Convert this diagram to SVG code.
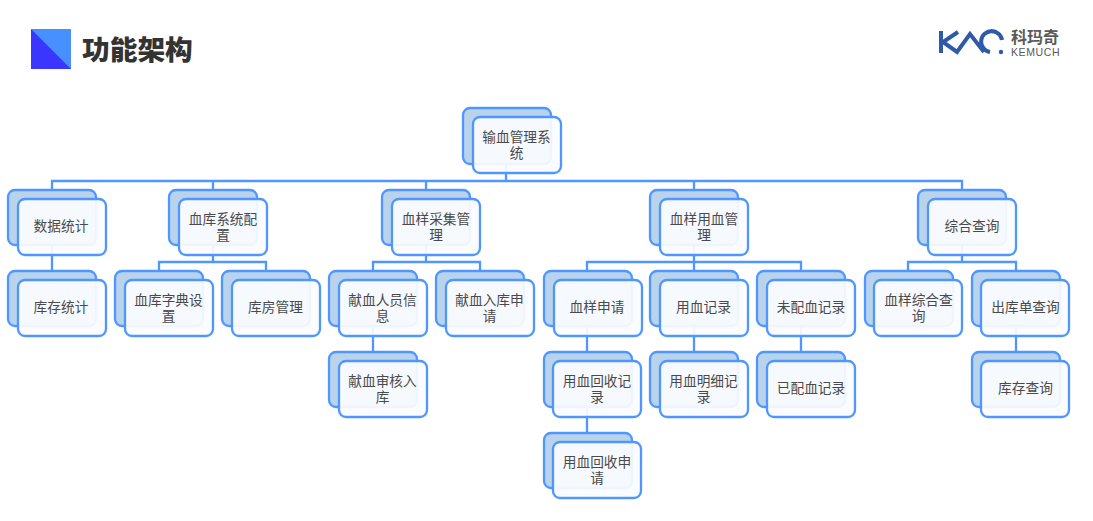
<svg xmlns="http://www.w3.org/2000/svg" width="1093" height="521" viewBox="0 0 1093 521">
<style>
.b{fill:#b9d3ec;stroke:#4f97ff;stroke-width:2.3}
.f{fill:#fbfcff;fill-opacity:.93;stroke:#4f97ff;stroke-width:2.3}
.t{font-family:"Liberation Sans","Noto Sans CJK SC",sans-serif;font-size:13.7px;fill:#4a4a4a;text-anchor:middle}
#connectors path{fill:none;stroke:#4f97ff;stroke-width:2.3}
</style>
<rect width="1093" height="521" fill="#fff"/>
<g id="header">
<rect x="31" y="29" width="40" height="40" fill="#4690ff"/>
<path d="M31 29L71 69H31Z" fill="#3a36ff"/>
<text x="82" y="60" font-family="'Noto Sans CJK SC',sans-serif" font-size="27.7" font-weight="900" fill="#333">功能架构</text>
</g>
<g id="logo">
<path d="M941 31V53M958 32L943 42L957 52L970 34L984 52M1002 40A10.5 10.5 0 1 0 990 52" fill="none" stroke="#2f5aa8" stroke-width="4"/>
<circle cx="1001" cy="52" r="2.2" fill="#2f5aa8"/>
<text x="1011" y="43" font-family="'Liberation Sans','Noto Sans CJK SC',sans-serif" font-size="16" font-weight="700" fill="#5a5a5a">科玛奇</text>
<text x="1011" y="55.500" font-family="'Liberation Sans',sans-serif" font-size="10.500" letter-spacing=".6" fill="#5a5a5a">KEMUCH</text>
</g>
<g id="connectors">
<path d="M506 164V181M52 190V181H962V190M213 181V190M426 181V190M694 181V190"/>
<path d="M52 245V271"/>
<path d="M213 245V262M159 271V262H266V271"/>
<path d="M426 245V262M373 271V262H480V271"/>
<path d="M694 245V262M587 271V262H801V271M694 262V271"/>
<path d="M962 245V262M908 271V262H1016V271"/>
<path d="M373 326V352M587 326V352M587 407V433M694 326V352M801 326V352M1016 326V352"/>
</g>
<g id="n0"><rect class="b" x="463" y="108" width="88" height="56" rx="7"/><rect class="f" x="473" y="117" width="88" height="56" rx="7"/><text class="t"><tspan x="516.5" y="142">输血管理系</tspan><tspan x="516.5" y="157.800">统</tspan></text></g>
<g id="n1"><rect class="b" x="8" y="190" width="88" height="55" rx="7"/><rect class="f" x="18" y="199" width="88" height="56" rx="7"/><text class="t" x="61" y="231">数据统计</text></g>
<g id="n2"><rect class="b" x="169" y="190" width="88" height="55" rx="7"/><rect class="f" x="179" y="199" width="88" height="56" rx="7"/><text class="t"><tspan x="223" y="224">血库系统配</tspan><tspan x="223" y="239.800">置</tspan></text></g>
<g id="n3"><rect class="b" x="382" y="190" width="88" height="55" rx="7"/><rect class="f" x="392" y="199" width="88" height="56" rx="7"/><text class="t"><tspan x="436" y="224">血样采集管</tspan><tspan x="436" y="239.800">理</tspan></text></g>
<g id="n4"><rect class="b" x="650" y="190" width="88" height="55" rx="7"/><rect class="f" x="660" y="199" width="88" height="56" rx="7"/><text class="t"><tspan x="704" y="224">血样用血管</tspan><tspan x="704" y="239.800">理</tspan></text></g>
<g id="n5"><rect class="b" x="918" y="190" width="88" height="55" rx="7"/><rect class="f" x="928" y="199" width="88" height="56" rx="7"/><text class="t" x="972" y="231">综合查询</text></g>
<g id="n6"><rect class="b" x="8" y="271" width="88" height="55" rx="7"/><rect class="f" x="18" y="280" width="88" height="56" rx="7"/><text class="t" x="61" y="312">库存统计</text></g>
<g id="n7"><rect class="b" x="115" y="271" width="88" height="55" rx="7"/><rect class="f" x="125" y="280" width="88" height="56" rx="7"/><text class="t"><tspan x="168.500" y="305">血库字典设</tspan><tspan x="168.500" y="320.800">置</tspan></text></g>
<g id="n8"><rect class="b" x="222" y="271" width="88" height="55" rx="7"/><rect class="f" x="232" y="280" width="88" height="56" rx="7"/><text class="t" x="275.500" y="312">库房管理</text></g>
<g id="n9"><rect class="b" x="329" y="271" width="88" height="55" rx="7"/><rect class="f" x="339" y="280" width="88" height="56" rx="7"/><text class="t"><tspan x="382.500" y="305">献血人员信</tspan><tspan x="382.500" y="320.800">息</tspan></text></g>
<g id="n10"><rect class="b" x="436" y="271" width="88" height="55" rx="7"/><rect class="f" x="446" y="280" width="88" height="56" rx="7"/><text class="t"><tspan x="489.500" y="305">献血入库申</tspan><tspan x="489.500" y="320.800">请</tspan></text></g>
<g id="n11"><rect class="b" x="544" y="271" width="88" height="55" rx="7"/><rect class="f" x="554" y="280" width="88" height="56" rx="7"/><text class="t" x="597" y="312">血样申请</text></g>
<g id="n12"><rect class="b" x="650" y="271" width="88" height="55" rx="7"/><rect class="f" x="660" y="280" width="88" height="56" rx="7"/><text class="t" x="703.500" y="312">用血记录</text></g>
<g id="n13"><rect class="b" x="757" y="271" width="88" height="55" rx="7"/><rect class="f" x="767" y="280" width="88" height="56" rx="7"/><text class="t" x="811" y="312">未配血记录</text></g>
<g id="n14"><rect class="b" x="865" y="271" width="88" height="55" rx="7"/><rect class="f" x="874" y="280" width="88" height="56" rx="7"/><text class="t"><tspan x="918.500" y="305">血样综合查</tspan><tspan x="918.500" y="320.800">询</tspan></text></g>
<g id="n15"><rect class="b" x="972" y="271" width="88" height="55" rx="7"/><rect class="f" x="981" y="280" width="88" height="56" rx="7"/><text class="t" x="1025.500" y="312">出库单查询</text></g>
<g id="n16"><rect class="b" x="329" y="352" width="88" height="55" rx="7"/><rect class="f" x="339" y="361" width="88" height="56" rx="7"/><text class="t"><tspan x="382.500" y="386">献血审核入</tspan><tspan x="382.500" y="401.800">库</tspan></text></g>
<g id="n17"><rect class="b" x="544" y="352" width="88" height="55" rx="7"/><rect class="f" x="553" y="361" width="88" height="56" rx="7"/><text class="t"><tspan x="597" y="386">用血回收记</tspan><tspan x="597" y="401.800">录</tspan></text></g>
<g id="n18"><rect class="b" x="650" y="352" width="88" height="55" rx="7"/><rect class="f" x="660" y="361" width="88" height="56" rx="7"/><text class="t"><tspan x="703.500" y="386">用血明细记</tspan><tspan x="703.500" y="401.800">录</tspan></text></g>
<g id="n19"><rect class="b" x="757" y="352" width="88" height="55" rx="7"/><rect class="f" x="767" y="361" width="88" height="56" rx="7"/><text class="t" x="811" y="393">已配血记录</text></g>
<g id="n20"><rect class="b" x="972" y="352" width="88" height="55" rx="7"/><rect class="f" x="981" y="361" width="88" height="56" rx="7"/><text class="t" x="1025.500" y="393">库存查询</text></g>
<g id="n21"><rect class="b" x="544" y="433" width="88" height="55" rx="7"/><rect class="f" x="553" y="442" width="88" height="56" rx="7"/><text class="t"><tspan x="597" y="467">用血回收申</tspan><tspan x="597" y="482.800">请</tspan></text></g>
</svg>
